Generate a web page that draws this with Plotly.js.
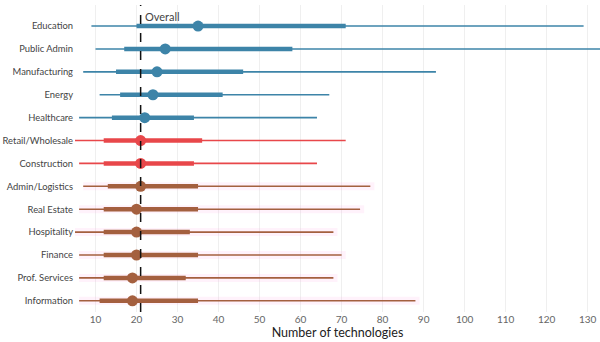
<!DOCTYPE html>
<html>
<head>
<meta charset="utf-8">
<script src="https://cdn.plot.ly/plotly-3.0.1.min.js"></script>
<style>html,body{margin:0;padding:0;background:#fff}#chart{width:600px;height:342px}</style>
</head>
<body>
<div id="chart"></div>
<script>
const categories = ["Education","Public Admin","Manufacturing","Energy","Healthcare","Retail/Wholesale","Construction","Admin/Logistics","Real Estate","Hospitality","Finance","Prof. Services","Information"];
const minVals  = [9, 10, 7, 11, 6, 5, 6, 7, 6, 5, 6, 6, 6];
const lowVals  = [20, 17, 15, 16, 14, 12, 12, 13, 12, 12, 12, 12, 11];
const medVals  = [35, 27, 25, 24, 22, 21, 21, 21, 20, 20, 20, 19, 19];
const highVals = [71, 58, 46, 41, 34, 36, 34, 35, 35, 33, 35, 32, 35];
const maxVals  = [129, 133, 93, 67, 64, 71, 64, 77, 74.5, 68, 70, 68, 88];
const groups   = ["above","above","above","above","above","at","at","below","below","below","below","below","below"];
const overall = 21;
const groupColors = {above: "#3d84a8", at: "#e8474a", below: "#a4603f"};

const traces = [];
categories.forEach((c, i) => {
  const col = groupColors[groups[i]];
  if (groups[i] === "below") {
    traces.push({x: [minVals[i], maxVals[i] + 1], y: [c, c], mode: "lines",
      line: {color: "rgba(255,175,230,0.16)", width: 8}, hoverinfo: "skip", showlegend: false});
  }
  traces.push({x: [minVals[i], maxVals[i]], y: [c, c], mode: "lines",
    line: {color: col, width: 1.6}, hoverinfo: "skip", showlegend: false});
  traces.push({x: [lowVals[i], highVals[i]], y: [c, c], mode: "lines",
    line: {color: col, width: 4.5}, hoverinfo: "skip", showlegend: false});
  traces.push({x: [medVals[i]], y: [c], mode: "markers",
    marker: {color: col, size: 11}, hoverinfo: "skip", showlegend: false});
});

const layout = {
  width: 600, height: 342,
  margin: {l: 75, r: 0, t: 5, b: 30},
  paper_bgcolor: "#fff", plot_bgcolor: "#fff",
  font: {family: "Lato, sans-serif", color: "#444"},
  xaxis: {
    range: [5, 133], tickvals: [10,20,30,40,50,60,70,80,90,100,110,120,130],
    showgrid: true, gridcolor: "#efefef", gridwidth: 1, zeroline: false, showline: false,
    ticks: "", tickfont: {size: 10, color: "#666"},
    title: {text: "Number of technologies", font: {size: 12.5, color: "#222"}, standoff: 4}
  },
  yaxis: {
    type: "category", categoryorder: "array", categoryarray: categories,
    range: [12.49, -0.92], showgrid: false, zeroline: false, showline: false,
    ticks: "", tickfont: {size: 9.4, color: "#444"}, ticklabelstandoff: 1
  },
  shapes: [{type: "line", xref: "x", yref: "paper", x0: overall, x1: overall, y0: 0, y1: 1,
    line: {color: "#111", width: 1.5, dash: "dash"}}],
  annotations: [{x: overall, y: 1, xref: "x", yref: "paper", text: "Overall", showarrow: false,
    xanchor: "left", yanchor: "top", xshift: 2, yshift: -3, font: {size: 11, color: "#444"}}]
};

Plotly.newPlot("chart", traces, layout, {displayModeBar: false, staticPlot: true});
</script>
</body>
</html>
